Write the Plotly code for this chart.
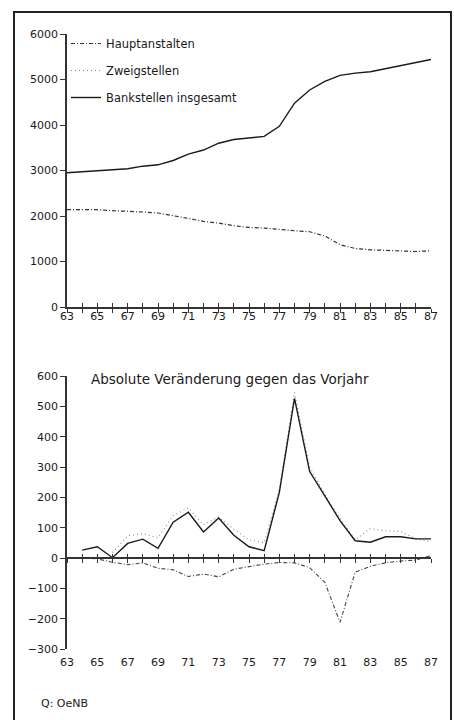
import plotly.graph_objects as go

# ---- data ----
years = list(range(1963, 1988))
year_short = [y - 1900 for y in years]

bankstellen_total = [2950, 2970, 3000, 3005, 3040, 3095, 3125, 3220, 3360, 3450,
                     3600, 3680, 3720, 3750, 3970, 4480, 4770, 4960, 5090, 5140,
                     5170, 5240, 5310, 5380, 5440]
hauptanstalten = [2140, 2140, 2140, 2117, 2110, 2088, 2066, 2013, 1947, 1881,
                  1845, 1786, 1749, 1735, 1698, 1676, 1654, 1560, 1370, 1286,
                  1257, 1250, 1235, 1220, 1235]

chg_total = [None, 26, 37, 1, 48, 62, 32, 118, 151, 86,
             132, 75, 37, 24, 216, 526, 285, 205, 123, 57,
             52, 70, 70, 63, 63]
chg_haupt = [None, 0, -3, -14, -22, -16, -34, -39, -61, -53,
             -62, -37, -28, -20, -15, -16, -32, -80, -212, -47,
             -27, -16, -10, -7, 8]
chg_zweig = [None, None, None, 18, 73, 80, 67, 140, 165, 110,
             135, 95, 60, 50, 227, 546, 300, 210, 130, 60,
             97, 90, 87, 63, 54]

tick_years = list(range(63, 88, 2))
tick_text = [str(t) for t in tick_years]

legend_names = ["Hauptanstalten", "Zweigstellen", "Bankstellen insgesamt"]
title_bottom = "Absolute Veränderung gegen das Vorjahr"
source_text = "Q: OeNB"

# ---- layout geometry (pixels) ----
W, H = 454, 720
def px_x(p): return p / W
def px_y(p): return (H - p) / H

xdom = [px_x(67), px_x(431)]
top_dom = [px_y(307), px_y(34)]
bot_dom = [px_y(649), px_y(376)]
top_range = [0, 6000]
bot_range = [-300, 600]
zero_pos = bot_dom[0] + (0 - bot_range[0]) / (bot_range[1] - bot_range[0]) * (bot_dom[1] - bot_dom[0])

FONT = "DejaVu Sans"
INK = "#1a1a1a"

fig = go.Figure()

fig.add_trace(go.Scatter(x=year_short, y=hauptanstalten, mode="lines",
                         name=legend_names[0], legendgroup="h",
                         line=dict(color="#333333", width=1.2, dash="4px,2px,1px,2px"),
                         xaxis="x", yaxis="y"))
fig.add_trace(go.Scatter(x=year_short, y=chg_zweig, mode="lines",
                         name=legend_names[1], legendgroup="z",
                         line=dict(color="#8a8a8a", width=1.1, dash="1px,3px"),
                         xaxis="x2", yaxis="y2"))
fig.add_trace(go.Scatter(x=year_short, y=bankstellen_total, mode="lines",
                         name=legend_names[2], legendgroup="t",
                         line=dict(color=INK, width=1.4),
                         xaxis="x", yaxis="y"))
fig.add_trace(go.Scatter(x=year_short, y=chg_haupt, mode="lines",
                         name=legend_names[0], legendgroup="h", showlegend=False,
                         line=dict(color="#444444", width=1.1, dash="4px,2px,1px,2px"),
                         xaxis="x2", yaxis="y2"))
fig.add_trace(go.Scatter(x=year_short, y=chg_total, mode="lines",
                         name=legend_names[2], legendgroup="t", showlegend=False,
                         line=dict(color=INK, width=1.4),
                         xaxis="x2", yaxis="y2"))

for xa, ya in [("x3", "y"), ("x4", "y2"), ("x5", "y2")]:
    fig.add_trace(go.Scatter(x=[], y=[], xaxis=xa, yaxis=ya, showlegend=False,
                             hoverinfo="skip"))

tickfont = dict(family=FONT, size=11, color=INK)
axis_line = dict(showline=True, linecolor="#333333", linewidth=1.5)

fig.update_layout(
    width=W, height=H,
    margin=dict(l=0, r=0, t=0, b=0, pad=0, autoexpand=False),
    paper_bgcolor="white", plot_bgcolor="white",
    font=dict(family=FONT, size=11, color=INK),
    showlegend=True,
    legend=dict(x=px_x(66), y=px_y(29), xanchor="left", yanchor="top",
                bgcolor="rgba(0,0,0,0)", traceorder="grouped",
                tracegroupgap=8, font=dict(family=FONT, size=11.5, color=INK),
                itemwidth=30),
    xaxis=dict(domain=xdom, range=[63, 87], anchor="y", automargin=False,
               tickvals=tick_years, ticktext=tick_text, ticks="outside", ticklen=4,
               ticklabelstandoff=-6,
               tickcolor="#333333", minor=dict(dtick=1, ticks="outside", ticklen=4, tickcolor="#333333"),
               showgrid=False, zeroline=False, tickfont=tickfont, **axis_line),
    yaxis=dict(domain=top_dom, range=top_range, anchor="x", automargin=False,
               tickvals=[0, 1000, 2000, 3000, 4000, 5000, 6000],
               ticks="outside", ticklen=5, tickcolor="#333333",
               showgrid=False, zeroline=False, tickfont=tickfont, **axis_line),
    xaxis3=dict(domain=xdom, range=[63, 87], overlaying="x", anchor="y", automargin=False,
                showticklabels=False, tickvals=list(range(63, 88)),
                ticks="inside", ticklen=4, tickcolor="#333333",
                showgrid=False, zeroline=False, showline=False),
    xaxis2=dict(domain=xdom, range=[63, 87], anchor="y2", automargin=False,
                tickvals=tick_years, ticktext=tick_text, ticks="",
                ticklabelstandoff=5,
                showgrid=False, zeroline=False, showline=False, tickfont=tickfont),
    yaxis2=dict(domain=bot_dom, range=bot_range, anchor="x2", automargin=False,
                tickvals=[-300, -200, -100, 0, 100, 200, 300, 400, 500, 600],
                ticks="outside", ticklen=5, tickcolor="#333333",
                showgrid=False, zeroline=False, tickfont=tickfont, **axis_line),
    xaxis4=dict(domain=xdom, range=[63, 87], overlaying="x2", anchor="free", automargin=False,
                position=zero_pos, showticklabels=False, tickvals=list(range(63, 88)),
                ticks="outside", ticklen=4, tickcolor="#333333",
                showgrid=False, zeroline=False, **axis_line),
    xaxis5=dict(domain=xdom, range=[63, 87], overlaying="x2", anchor="free", automargin=False,
                position=zero_pos, showticklabels=False, tickvals=list(range(63, 88)),
                ticks="inside", ticklen=4, tickcolor="#333333",
                showgrid=False, zeroline=False, showline=False),
)

fig.add_shape(type="rect", xref="paper", yref="paper",
              x0=px_x(14), x1=px_x(451), y0=-0.02, y1=px_y(12),
              line=dict(color="#222222", width=2), fillcolor="rgba(0,0,0,0)")

fig.add_annotation(text=title_bottom, xref="paper", yref="paper",
                   x=px_x(89), y=px_y(379), xanchor="left", yanchor="middle",
                   showarrow=False, font=dict(family=FONT, size=13.5, color=INK))
fig.add_annotation(text=source_text, xref="paper", yref="paper",
                   x=px_x(39), y=px_y(703), xanchor="left", yanchor="middle",
                   showarrow=False, font=dict(family=FONT, size=11, color=INK))

fig.write_html("out.html", config={"displayModeBar": False},
               post_script="document.body.style.margin='0';document.body.style.overflow='hidden';")
